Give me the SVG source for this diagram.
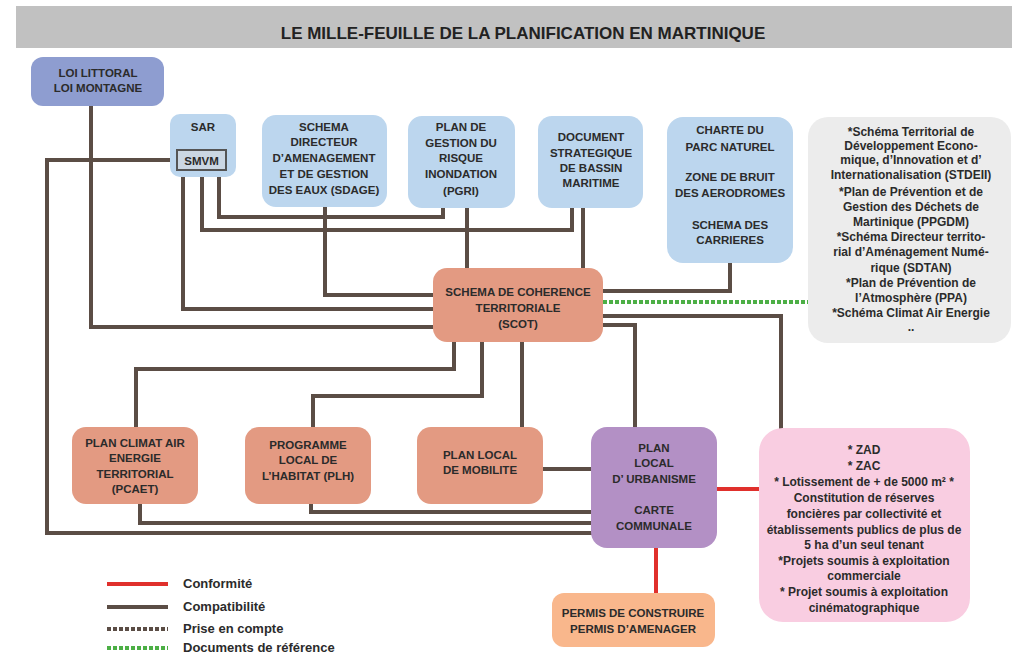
<svg xmlns="http://www.w3.org/2000/svg" width="1014" height="655" viewBox="0 0 1014 655">
<style>
text{font-family:"Liberation Sans",Arial,sans-serif;font-weight:bold;fill:#2b2b2b;text-anchor:middle}
.n{font-size:11.5px}
.s{font-size:12px}
.lg{font-size:13px;text-anchor:start}
.title{font-size:17px;fill:#222}
.c{fill:none;stroke:#5b4d45;stroke-width:4;stroke-linejoin:miter}
.r{fill:none;stroke:#e0302c;stroke-width:4}
.d{fill:none;stroke:#5b4d45;stroke-width:4;stroke-dasharray:4 2}
.g{fill:none;stroke:#4caf45;stroke-width:4;stroke-dasharray:4 2}
.blue{fill:#bcd6ee}
.salmon{fill:#e39a82}
</style>
<rect width="1014" height="655" fill="#ffffff"/>
<g id="title">
<rect x="16" y="6" width="996" height="42" fill="#c1c1c1"/>
<text class="title" x="523" y="39">LE MILLE-FEUILLE DE LA PLANIFICATION EN MARTINIQUE</text>
</g>
<g id="connectors">
<path class="c" d="M91 106 V327 H435"/>
<path class="c" d="M177 160 H47 V533 H593"/>
<path class="c" d="M219 177 V217 H443 V206"/>
<path class="c" d="M202 177 V230 H572 V206"/>
<path class="c" d="M183 177 V309 H435"/>
<path class="c" d="M325 205 V295 H435"/>
<path class="c" d="M467 206 V270"/>
<path class="c" d="M583 206 V270"/>
<path class="c" d="M730 261 V291 H601"/>
<path class="c" d="M601 316 H781 V430"/>
<path class="c" d="M601 325 H635 V429"/>
<path class="c" d="M454 340 V369 H136 V429"/>
<path class="c" d="M482 340 V396 H313 V429"/>
<path class="c" d="M522 340 V429"/>
<path class="c" d="M541 469 H593"/>
<path class="c" d="M311 502 V512 H593"/>
<path class="c" d="M140 502 V523 H593"/>
<path class="r" d="M715 489 H761"/>
<path class="r" d="M656 546 V595"/>
<path class="g" d="M603 302 H808"/>
</g>
<g id="loi">
<rect x="31" y="57" width="133" height="49" rx="12" fill="#8e9dd0"/>
<text class="n" x="98" y="77">LOI LITTORAL</text>
<text class="n" x="98" y="92">LOI MONTAGNE</text>
</g>
<g id="sar">
<rect class="blue" x="170" y="114" width="66" height="63" rx="10"/>
<text class="n" x="203" y="131">SAR</text>
<rect x="177" y="150" width="49" height="20" fill="#cbd7e3" stroke="#555" stroke-width="2"/>
<text class="n" x="201.5" y="164.5">SMVM</text>
</g>
<g id="sdage">
<rect class="blue" x="262" y="115" width="125" height="92" rx="14"/>
<text class="n" x="324" y="131">SCHEMA</text>
<text class="n" x="324" y="146">DIRECTEUR</text>
<text class="n" x="324" y="162">D’AMENAGEMENT</text>
<text class="n" x="324" y="178">ET DE GESTION</text>
<text class="n" x="324" y="194">DES EAUX (SDAGE)</text>
</g>
<g id="pgri">
<rect class="blue" x="408" y="116" width="107" height="92" rx="14"/>
<text class="n" x="461" y="131">PLAN DE</text>
<text class="n" x="461" y="147">GESTION DU</text>
<text class="n" x="461" y="162">RISQUE</text>
<text class="n" x="461" y="178">INONDATION</text>
<text class="n" x="461" y="195">(PGRI)</text>
</g>
<g id="dsbm">
<rect class="blue" x="538" y="116" width="105" height="92" rx="14"/>
<text class="n" x="591" y="141">DOCUMENT</text>
<text class="n" x="591" y="157">STRATEGIQUE</text>
<text class="n" x="591" y="172">DE BASSIN</text>
<text class="n" x="591" y="187">MARITIME</text>
</g>
<g id="charte">
<rect class="blue" x="667" y="117" width="126" height="146" rx="16"/>
<text class="n" x="730" y="134">CHARTE DU</text>
<text class="n" x="730" y="151">PARC NATUREL</text>
<text class="n" x="730" y="181">ZONE DE BRUIT</text>
<text class="n" x="730" y="197">DES AERODROMES</text>
<text class="n" x="730" y="229">SCHEMA DES</text>
<text class="n" x="730" y="244">CARRIERES</text>
</g>
<g id="reference">
<rect x="808" y="117" width="203" height="226" rx="20" fill="#ececec"/>
<text class="s" x="911" y="136">*Schéma Territorial de</text>
<text class="s" x="911" y="150">Développement Econo-</text>
<text class="s" x="911" y="164">mique, d’Innovation et d’</text>
<text class="s" x="911" y="179">Internationalisation (STDEII)</text>
<text class="s" x="911" y="196">*Plan de Prévention et de</text>
<text class="s" x="911" y="211">Gestion des Déchets de</text>
<text class="s" x="911" y="226">Martinique  (PPGDM)</text>
<text class="s" x="911" y="241">*Schéma Directeur territo-</text>
<text class="s" x="911" y="256">rial d’Aménagement Numé-</text>
<text class="s" x="911" y="272">rique (SDTAN)</text>
<text class="s" x="911" y="287">*Plan de Prévention de</text>
<text class="s" x="911" y="302">l’Atmosphère (PPA)</text>
<text class="s" x="911" y="317">*Schéma Climat Air Energie</text>
<text class="s" x="911" y="331">..</text>
</g>
<g id="scot">
<rect class="salmon" x="433" y="268" width="170" height="74" rx="14"/>
<text class="n" x="518" y="296">SCHEMA DE COHERENCE</text>
<text class="n" x="518" y="312">TERRITORIALE</text>
<text class="n" x="518" y="328">(SCOT)</text>
</g>
<g id="pcaet">
<rect class="salmon" x="72" y="427" width="126" height="77" rx="14"/>
<text class="n" x="135" y="447">PLAN CLIMAT AIR</text>
<text class="n" x="135" y="462">ENERGIE</text>
<text class="n" x="135" y="478">TERRITORIAL</text>
<text class="n" x="135" y="493">(PCAET)</text>
</g>
<g id="plh">
<rect class="salmon" x="245" y="427" width="126" height="77" rx="14"/>
<text class="n" x="308" y="449">PROGRAMME</text>
<text class="n" x="308" y="464">LOCAL DE</text>
<text class="n" x="308" y="480">L’HABITAT (PLH)</text>
</g>
<g id="plm">
<rect class="salmon" x="417" y="427" width="126" height="77" rx="14"/>
<text class="n" x="480" y="459">PLAN LOCAL</text>
<text class="n" x="480" y="474">DE MOBILITE</text>
</g>
<g id="plu">
<rect x="591" y="427" width="126" height="121" rx="16" fill="#b390c5"/>
<text class="n" x="654" y="452">PLAN</text>
<text class="n" x="654" y="467">LOCAL</text>
<text class="n" x="654" y="483">D’ URBANISME</text>
<text class="n" x="654" y="514">CARTE</text>
<text class="n" x="654" y="530">COMMUNALE</text>
</g>
<g id="operations">
<rect x="759" y="428" width="211" height="194" rx="24" fill="#f9cde1"/>
<text class="s" x="864" y="454">* ZAD</text>
<text class="s" x="864" y="470">* ZAC</text>
<text class="s" x="864" y="486">* Lotissement de + de 5000 m² *</text>
<text class="s" x="864" y="502">Constitution de réserves</text>
<text class="s" x="864" y="518">foncières par collectivité et</text>
<text class="s" x="864" y="534">établissements publics de plus de</text>
<text class="s" x="864" y="549">5 ha d’un seul tenant</text>
<text class="s" x="864" y="565">*Projets soumis à exploitation</text>
<text class="s" x="864" y="580">commerciale</text>
<text class="s" x="864" y="596">* Projet soumis à exploitation</text>
<text class="s" x="864" y="612">cinématographique</text>
</g>
<g id="permis">
<rect x="552" y="593" width="163" height="54" rx="12" fill="#f9b78c"/>
<text class="n" x="633" y="617">PERMIS DE CONSTRUIRE</text>
<text class="n" x="633" y="633">PERMIS D’AMENAGER</text>
</g>
<g id="legend">
<path class="r" d="M107 584 H168"/>
<path class="c" d="M107 607 H168"/>
<path class="d" d="M107 629 H168"/>
<path class="g" d="M107 648 H168"/>
<text class="lg" x="183" y="588">Conformité</text>
<text class="lg" x="183" y="611">Compatibilité</text>
<text class="lg" x="183" y="633">Prise en compte</text>
<text class="lg" x="183" y="652">Documents de référence</text>
</g>
</svg>
